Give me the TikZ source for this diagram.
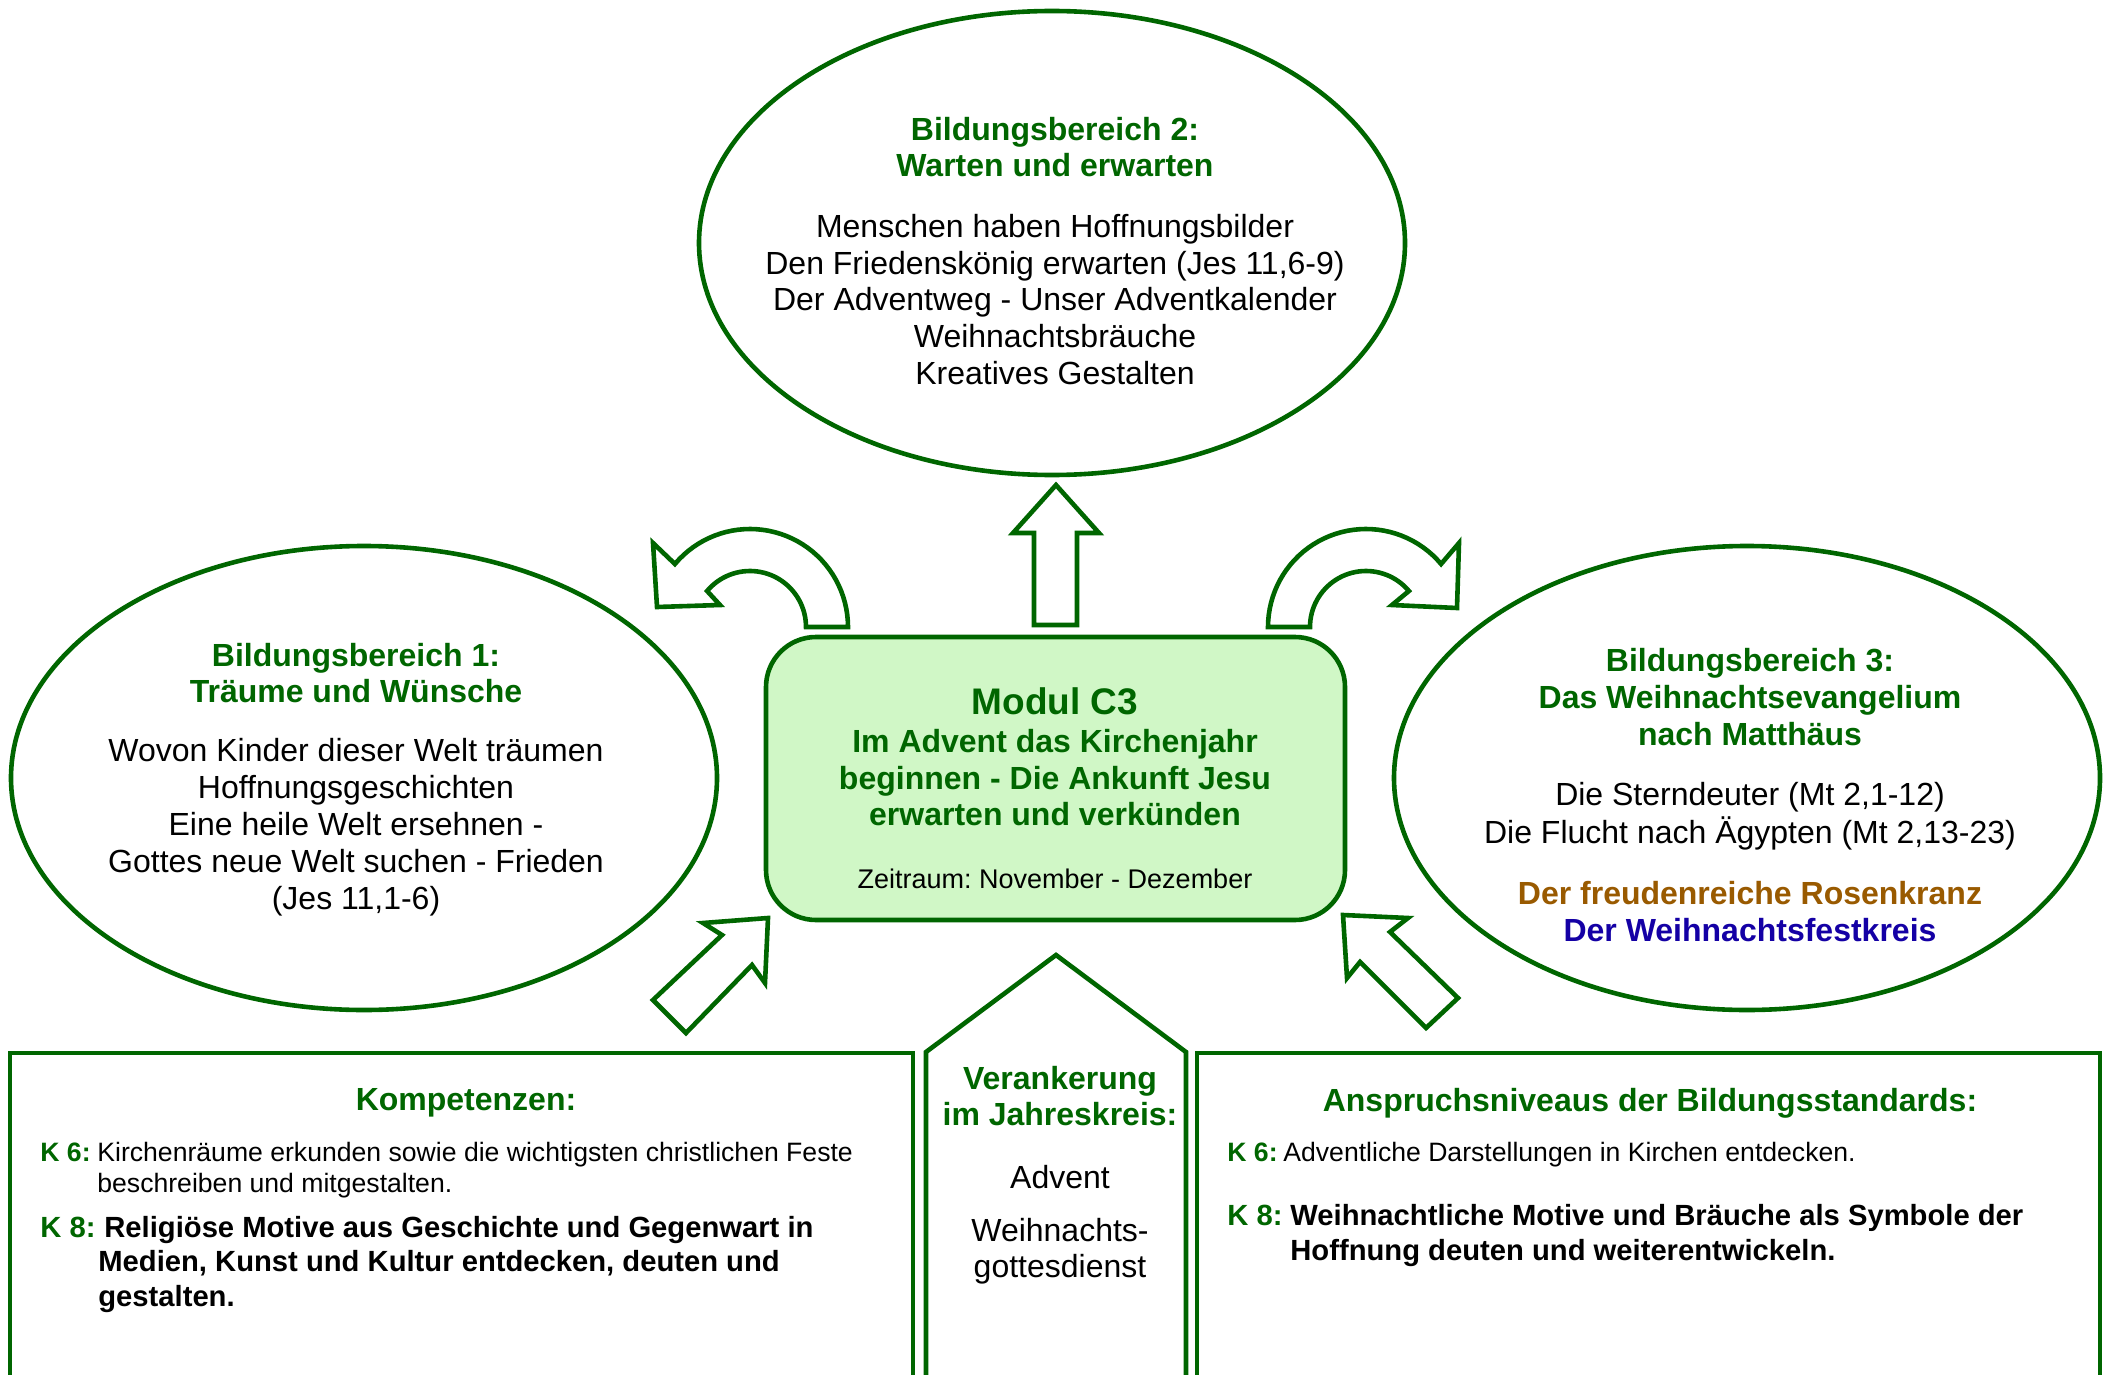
\documentclass[tikz,border=0pt]{standalone}
\usepackage{fontspec}
\setmainfont{Liberation Sans}
\usepackage{array}
\usetikzlibrary{shapes.geometric}
\definecolor{dgreen}{RGB}{0,102,0}
\definecolor{boxfill}{RGB}{208,247,198}
\definecolor{rosebrown}{RGB}{153,90,0}
\definecolor{festblue}{RGB}{20,0,165}
\newcommand{\fsz}[2]{\fontsize{#1}{#2}\selectfont}
\frenchspacing

\begin{document}
\begin{tikzpicture}[x=0.5pt,y=-0.5pt,
  outline/.style={draw=dgreen, line width=2.3pt, line join=miter},
  blockarrow/.style={outline, fill=white},
  area/.style={ellipse, outline, fill=white, inner sep=0pt, minimum width=353pt, minimum height=232pt},
  heading/.style={font=\bfseries\fsz{16pt}{18pt}, text=dgreen, align=center, inner sep=0pt},
  bodytext/.style={font=\fsz{16pt}{18.4pt}, align=center, inner sep=0pt},
  item/.style={anchor=west, inner sep=0pt},
]
\useasboundingbox (0,0) rectangle (2114,1375);

% three areas of learning
\node[area] (bb2) at (1052,243) {};
\node[area] (bb1) at (364,778) {};
\node[area] (bb3) at (1747,778) {};

% central module box
\node[outline, fill=boxfill, rounded corners=25pt, minimum width=289.5pt,
      minimum height=141.5pt, inner sep=0pt] (modul) at (1055.5,778.5) {};

% block arrows around the module
\draw[blockarrow] (1034,625) -- (1034,533) -- (1013,533) -- (1056,485)
  -- (1099,533) -- (1077,533) -- (1077,625) -- cycle;
\draw[blockarrow] plot[domain=0:140, samples=40] ({750+98*cos(\x)},{627-98*sin(\x)})
  -- (653,543) -- (657,607) -- (720,605)
  -- plot[domain=140:0, samples=40] ({750+56*cos(\x)},{627-56*sin(\x)}) -- cycle;
\draw[blockarrow] plot[domain=180:40, samples=40] ({1366+98*cos(\x)},{627-98*sin(\x)})
  -- (1459,543) -- (1457,608) -- (1392,605)
  -- plot[domain=40:180, samples=40] ({1366+56*cos(\x)},{627-56*sin(\x)}) -- cycle;
\draw[blockarrow] (653,1000) -- (722,935) -- (703,923) -- (768,918)
  -- (765,983) -- (752,965) -- (686,1033) -- cycle;
\draw[blockarrow] (1458,998) -- (1390,932) -- (1408,918) -- (1343,915)
  -- (1347,978) -- (1360,962) -- (1426,1028) -- cycle;

% bottom panels
\draw[outline] (10,1385) -- (10,1053) -- (913,1053) -- (913,1385);
\draw[outline] (926,1385) -- (926,1052) -- (1056,955) -- (1186,1052) -- (1186,1385);
\draw[outline] (1197,1385) -- (1197,1053) -- (2100,1053) -- (2100,1385);

% texts of area 2
\node[heading] (t2) at (1055,147) {Bildungsbereich 2:\\Warten und erwarten};
\node[bodytext] (b2) at (1055,299.5) {Menschen haben Hoffnungsbilder\\Den Friedenskönig erwarten (Jes 11,6-9)\\Der Adventweg - Unser Adventkalender\\Weihnachtsbräuche\\Kreatives Gestalten};

% texts of area 1
\node[heading] (t1) at (356,673) {Bildungsbereich 1:\\Träume und Wünsche};
\node[bodytext, font=\fsz{16pt}{18.5pt}] (b1) at (356,827.5) {Wovon Kinder dieser Welt träumen\\Hoffnungsgeschichten\\Eine heile Welt ersehnen -\\Gottes neue Welt suchen - Frieden\\(Jes 11,1-6)};

% texts of area 3
\node[heading, font=\bfseries\fsz{16pt}{18.5pt}] (t3) at (1750,697) {Bildungsbereich 3:\\Das Weihnachtsevangelium\\nach Matthäus};
\node[bodytext, font=\fsz{16pt}{19pt}] (b3) at (1750,816) {Die Sterndeuter (Mt 2,1-12)\\Die Flucht nach Ägypten (Mt 2,13-23)};
\node[bodytext, font=\bfseries\fsz{16pt}{18.5pt}] (c3) at (1750,911.5) {\textcolor{rosebrown}{Der freudenreiche Rosenkranz}\\\textcolor{festblue}{Der Weihnachtsfestkreis}};

% module texts
\node[heading, font=\bfseries\fsz{18.5pt}{20pt}] (mt) at (1055,701) {Modul C3};
\node[heading, font=\bfseries\fsz{16pt}{18.25pt}] (ms) at (1055,778) {Im Advent das Kirchenjahr\\beginnen - Die Ankunft Jesu\\erwarten und verkünden};
\node[bodytext, font=\fsz{13.5pt}{16pt}] (mz) at (1055,879) {Zeitraum: November - Dezember};

% middle panel
\node[heading] (vt) at (1060,1096) {Verankerung\\im Jahreskreis:};
\node[bodytext] (va) at (1060,1177) {Advent};
\node[bodytext, font=\fsz{16pt}{18pt}] (vw) at (1060,1251) {Weihnachts-\\gottesdienst};

% left panel
\node[heading] (kt) at (466,1103) {Kompetenzen:};
\node[item] (k6) at (40,1171) {\fsz{13.3pt}{15.5pt}\begin{tabular}{@{}p{28.5pt}@{}l@{}}
  \textbf{\textcolor{dgreen}{K 6:}} & Kirchenräume erkunden sowie die wichtigsten christlichen Feste\\
  & beschreiben und mitgestalten.\end{tabular}};
\node[item] (k8) at (40,1265) {\fsz{14.6pt}{17.25pt}\begin{tabular}{@{}p{29pt}@{}l@{}}
  \textbf{\textcolor{dgreen}{K 8:}} & \textbf{\hspace{3pt}Religiöse Motive aus Geschichte und Gegenwart in}\\
  & \textbf{Medien, Kunst und Kultur entdecken, deuten und}\\
  & \textbf{gestalten.}\end{tabular}};

% right panel
\node[heading] (at) at (1650,1103) {Anspruchsniveaus der Bildungsstandards:};
\node[item] (a6) at (1227,1155) {\fsz{13.3pt}{15.5pt}\begin{tabular}{@{}p{28pt}@{}l@{}}
  \textbf{\textcolor{dgreen}{K 6:}} & Adventliche Darstellungen in Kirchen entdecken.\end{tabular}};
\node[item] (a8) at (1227,1236) {\fsz{14.6pt}{17.5pt}\begin{tabular}{@{}p{31.5pt}@{}l@{}}
  \textbf{\textcolor{dgreen}{K 8:}} & \textbf{Weihnachtliche Motive und Bräuche als Symbole der}\\
  & \textbf{Hoffnung deuten und weiterentwickeln.}\end{tabular}};
\end{tikzpicture}
\end{document}
